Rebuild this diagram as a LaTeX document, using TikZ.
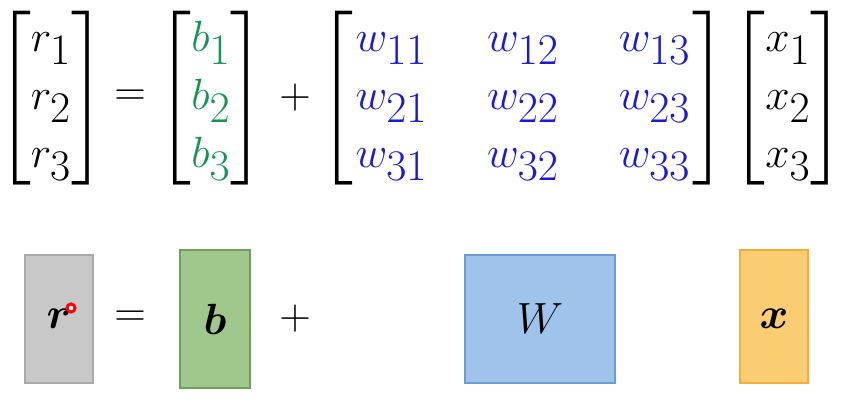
\documentclass[tikz,border=0pt]{standalone}
\usepackage{amsmath}
\usepackage{amssymb}
\usepackage{bm}
\usepackage{tikz}
\definecolor{bgreen}{RGB}{20,150,80}
\definecolor{wblue}{RGB}{25,25,215}
\definecolor{rfill}{RGB}{200,200,200}
\definecolor{rdraw}{RGB}{170,170,170}
\definecolor{bfill}{RGB}{160,200,140}
\definecolor{bdraw}{RGB}{110,160,90}
\definecolor{wfill}{RGB}{160,195,235}
\definecolor{wdraw}{RGB}{110,155,210}
\definecolor{xfill}{RGB}{250,205,115}
\definecolor{xdraw}{RGB}{240,175,60}
\tikzset{
  big/.style={font=\fontsize{33}{33}\selectfont, inner sep=0pt},
  vbox/.style 2 args={draw=#2, fill=#1, line width=.3mm},
}
\begin{document}
\begin{tikzpicture}[x=0.02cm,y=-0.02cm]
\useasboundingbox (0,0) rectangle (852,405);
% top row
\node[big] (rvec) at (51,98) {$\begin{bmatrix} r_1\\ r_2\\ r_3\end{bmatrix}$};
\node[big] (eq1) at (130,98) {$=$};
\node[big] (bvec) at (211,98) {$\begin{bmatrix}\color{bgreen} b_1\\ \color{bgreen} b_2\\ \color{bgreen} b_3\end{bmatrix}$};
\node[big] (plus1) at (295,98) {$+$};
\node[big] (wmat) at (523,98) {\setlength\arraycolsep{0.6cm}$\left[\begin{array}{@{\hspace{0.05cm}}ccc@{\hspace{0.05cm}}}
\color{wblue} w_{11} & \color{wblue} w_{12} & \color{wblue} w_{13}\\
\color{wblue} w_{21} & \color{wblue} w_{22} & \color{wblue} w_{23}\\
\color{wblue} w_{31} & \color{wblue} w_{32} & \color{wblue} w_{33}\end{array}\right]$};
\node[big] (xvec) at (788,98) {$\begin{bmatrix} x_1\\ x_2\\ x_3\end{bmatrix}$};
% bottom row
\draw[vbox={rfill}{rdraw}] (25,255) rectangle (93,383);
\node[big] (r) at (59,319) {$\bm{r}$};
\draw[red, fill=white, line width=.6mm] (71,308) circle (4);
\node[big] (eq2) at (130,319) {$=$};
\draw[vbox={bfill}{bdraw}] (180,250) rectangle (250,388);
\node[big] (b) at (215,319) {$\bm{b}$};
\node[big] (plus2) at (295,319) {$+$};
\draw[vbox={wfill}{wdraw}] (465,255) rectangle (615,383);
\node[big] (W) at (540,319) {$W$};
\draw[vbox={xfill}{xdraw}] (740,250) rectangle (808,383);
\node[big] (x) at (774,319) {$\bm{x}$};
\end{tikzpicture}
\end{document}
